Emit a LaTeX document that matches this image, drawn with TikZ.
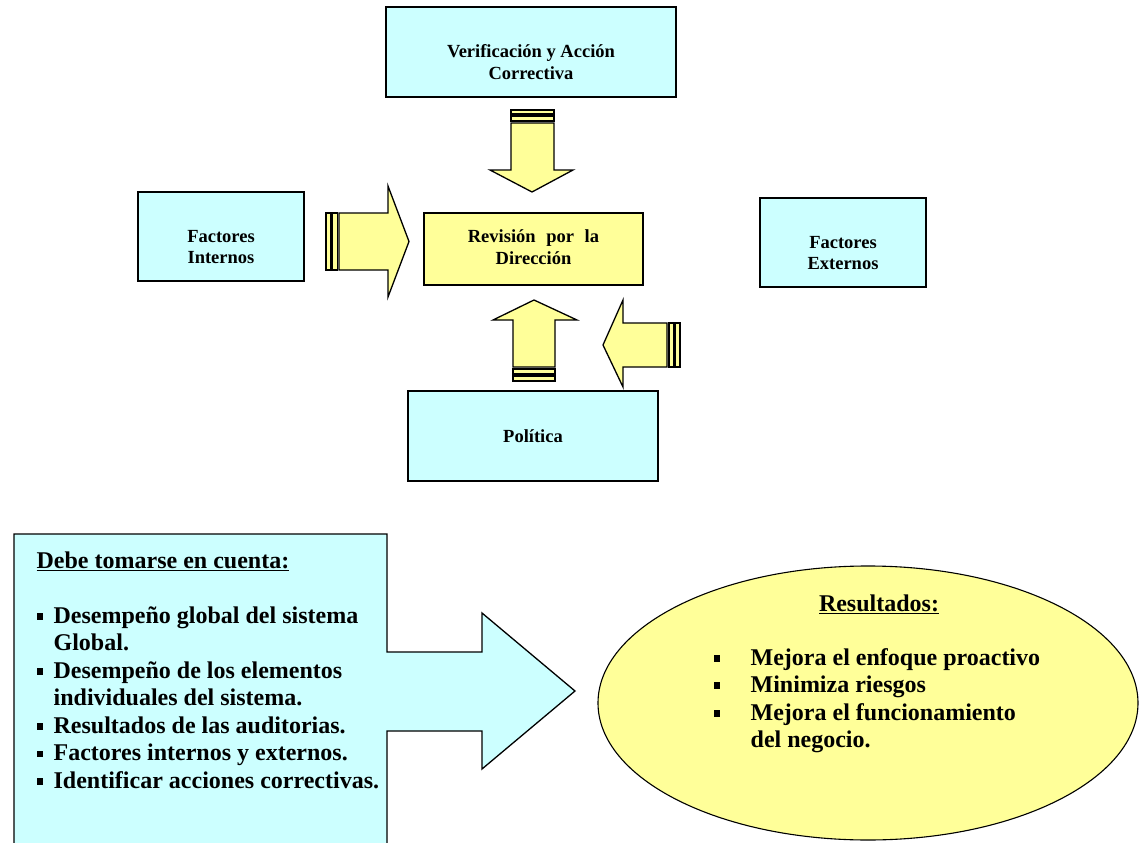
\documentclass[tikz,border=0pt]{standalone}
\usepackage{fontspec}
\setmainfont{Liberation Serif}
\usetikzlibrary{shapes.geometric}
\definecolor{lcyan}{HTML}{CCFFFF}
\definecolor{lyellow}{HTML}{FFFF99}
\begin{document}
\begin{tikzpicture}[x=1pt,y=-1pt,line width=1.3pt,line join=miter,
  box/.style={draw=black,fill=lcyan,inner sep=0pt},
  ybox/.style={box,fill=lyellow},
  lbl/.style={inner sep=0pt,align=center,font=\fontsize{18.5}{21.5}\selectfont\bfseries},
  arr/.style={draw=black,fill=lyellow},
  big/.style={font=\fontsize{24}{27.5}\selectfont\bfseries,inner sep=0pt,anchor=base west},
  bul/.style={fill=black}]
\useasboundingbox (0,0) rectangle (1144,843);
\clip (0,0) rectangle (1144,843);
% top boxes
\node[box,minimum width=290pt,minimum height=90pt] (verif) at (531,52) {};
\node[lbl] (verifT) at ([yshift=-10pt]verif.center) {Verificación y Acción\\Correctiva};
\node[box,minimum width=166pt,minimum height=89pt] (intern) at (221,236.5) {};
\node[lbl] (internT) at ([yshift=-10.5pt]intern.center) {Factores\\Internos};
\node[ybox,minimum width=219pt,minimum height=72pt] (rev) at (533.5,249) {};
\node[lbl] (revT) at ([yshift=2pt]rev.center) {Revisión\hspace{6pt} por\hspace{6pt} la\\Dirección};
\node[box,minimum width=166pt,minimum height=89pt] (extern) at (843,242.5) {};
\node[lbl] (externT) at ([yshift=-10.5pt]extern.center) {Factores\\Externos};
\node[box,minimum width=250pt,minimum height=90pt] (pol) at (533,436) {};
\node[lbl] (polT) at (pol.center) {Política};
% right striped arrow (internos)
\draw[arr] (326,213) rectangle (331,270);
\draw[arr] (332.5,213) rectangle (337.5,270);
\draw[arr] (339,213) -- (388,213) -- (388,186) -- (409,241.5) -- (388,297) -- (388,270) -- (339,270) -- cycle;
% down striped arrow (verificacion)
\draw[arr] (511,110) rectangle (554,114);
\draw[arr] (511,116) rectangle (554,121);
\draw[arr] (511,123) -- (554,123) -- (554,170) -- (573,170) -- (532,192) -- (490,170) -- (511,170) -- cycle;
% up striped arrow (politica)
\draw[arr] (534,300) -- (577,320) -- (555,320) -- (555,367) -- (513,367) -- (513,320) -- (493,320) -- cycle;
\draw[arr] (513,369) rectangle (555,374);
\draw[arr] (513,376) rectangle (555,381);
% left striped arrow (externos)
\draw[arr] (603,345) -- (623,300) -- (623,323) -- (667,323) -- (667,367) -- (623,367) -- (623,387) -- cycle;
\draw[arr] (669,323) rectangle (674,367);
\draw[arr] (675.5,323) rectangle (680,367);
% bottom left callout
\draw[draw=black,fill=lcyan] (14,534) -- (387,534) -- (387,652) -- (482,652) -- (482,613) -- (575,691) -- (482,769) -- (482,731) -- (387,731) -- (387,860) -- (14,860) -- cycle;
\node[big] (h1) at (36,568) {\underline{Debe tomarse en cuenta:}};
\node[big] (a1) at (53,623) {Desempeño global del sistema};
\node[big] (a2) at (53,650.5) {Global.};
\node[big] (a3) at (53,678) {Desempeño de los elementos};
\node[big] (a4) at (53,705.5) {individuales del sistema.};
\node[big] (a5) at (53,733) {Resultados de las auditorias.};
\node[big] (a6) at (53,760.5) {Factores internos y externos.};
\node[big] (a7) at (53,788) {Identificar acciones correctivas.};
\foreach \y in {623,678,733,760.5,788} \fill[bul] (37,\y-10) rectangle +(6,6.5);
% ellipse
\node[draw=black,fill=lyellow,ellipse,minimum width=540pt,minimum height=274pt,line width=1.1pt] (res) at (868,703) {};
\node[big,anchor=base] (h2) at (879,611) {\underline{Resultados:}};
\node[big] (b1) at (750,665) {Mejora el enfoque proactivo};
\node[big] (b2) at (750,692) {Minimiza riesgos};
\node[big] (b3) at (750,720) {Mejora el funcionamiento};
\node[big] (b4) at (750,747) {del negocio.};
\foreach \y in {665,692,720} \fill[bul] (714,\y-10) rectangle +(6,6.5);
\end{tikzpicture}
\end{document}
